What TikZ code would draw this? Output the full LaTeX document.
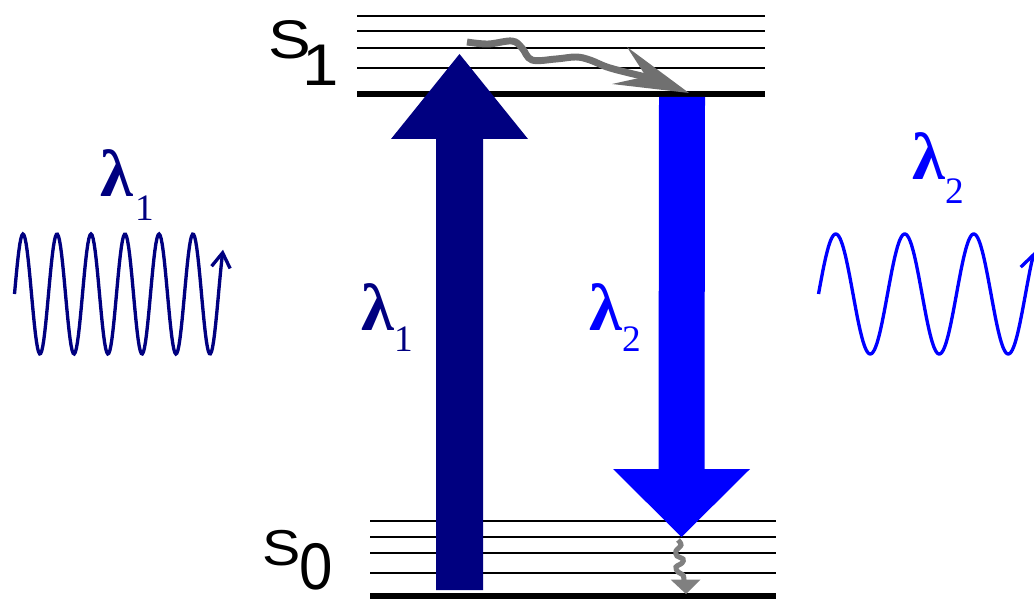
\documentclass[tikz,border=0pt]{standalone}
\usepackage{fontspec}
\setmainfont{Liberation Serif}
\newfontfamily\statefont{Liberation Sans}
\usetikzlibrary{arrows.meta, calc}

\definecolor{absblue}{RGB}{0,0,128}
\definecolor{emblue}{RGB}{0,0,255}
\definecolor{relaxgray}{RGB}{112,112,112}
\definecolor{vibgray}{RGB}{128,128,128}

\begin{document}
\begin{tikzpicture}[
    x=0.75pt, y=-0.75pt,
    level/.style={line width=1.6pt, black},
    groundlevel/.style={line width=3.8pt, black},
    wave/.style={line width=2.5pt, -{Straight Barb[length=11pt, width=14pt]}},
    stateLabel/.style={inner sep=0pt, anchor=base west, font=\statefont},
    lamLabel/.style={inner sep=0pt, anchor=base west, font=\fontsize{50}{50}\selectfont\bfseries}
]
\useasboundingbox (0,0) rectangle (1034,599);

% ----------------------------------------------------
% Vibrational levels of S1 and S0
% ----------------------------------------------------
\foreach \y in {16,31,48,68}
    \draw[level] (357,\y) -- (765,\y);
\draw[groundlevel] (357,94) -- (765,94);

\foreach \y in {521,537,553,573}
    \draw[level] (370,\y) -- (776,\y);
\draw[groundlevel] (370,596) -- (776,596);

\node[stateLabel] (S1) at (268,59)
    {\scalebox{1}[0.85]{\fontsize{48}{48}\selectfont S}\kern-6.5pt\raisebox{-20.25pt}{\scalebox{1}[0.9]{\fontsize{49}{49}\selectfont 1}}};
\node[stateLabel] (S0) at (262.3,565.5)
    {\scalebox{1}[0.88]{\fontsize{43}{43}\selectfont S}\kern-1.3pt\raisebox{-18pt}{\scalebox{1}[1.1]{\fontsize{45}{45}\selectfont 0}}};

% ----------------------------------------------------
% Absorption (up) and emission (down)
% ----------------------------------------------------
\coordinate (absStart) at (459.5,590);
\coordinate (absTip) at (459.5,54);
\fill[absblue] ($(absStart)+(-23.5,0)$) -- ($(absStart)+(23.5,0)$)
    -- ($(absTip)+(23.5,85)$) -- ($(absTip)+(68.5,85)$) -- (absTip)
    -- ($(absTip)+(-68.5,85)$) -- ($(absTip)+(-23.5,85)$) -- cycle;

\coordinate (emStart) at (682,97);
\coordinate (emTip) at (681.5,537);
\fill[emblue] ($(emStart)+(-23,0)$) -- ($(emStart)+(23,0)$)
    -- ($(emTip)+(23,-68)$) -- ($(emTip)+(68.5,-68)$) -- (emTip)
    -- ($(emTip)+(-68.5,-68)$) -- ($(emTip)+(-23,-68)$) -- cycle;

\node[lamLabel, text=absblue] (lamAbs) at (361,330)
    {λ\kern0pt\raisebox{-16.3pt}{\mdseries\fontsize{28}{28}\selectfont 1}};
\node[lamLabel, text=emblue] (lamEm) at (589,330)
    {λ\kern0pt\raisebox{-16.3pt}{\mdseries\fontsize{28}{28}\selectfont 2}};

% ----------------------------------------------------
% Non-radiative relaxation
% ----------------------------------------------------
\coordinate (relaxStart) at (467,42);
\coordinate (relaxTip) at (689,93);
\draw[relaxgray, line width=5.2pt] plot[smooth, tension=0.6] coordinates
    {(relaxStart) (488,44) (512,41) (522,48) (532,60) (556,59) (576,57)
     (590,60) (610,68) (646,77)};
\fill[relaxgray] (relaxTip) -- (627,47) -- (646,76.5) -- (612,84) -- cycle;

\coordinate (vibStart) at (678,540);
\coordinate (vibTip) at (686,594);
\draw[vibgray, line width=3.8pt] plot[smooth, tension=0.6] coordinates
    {(vibStart) (681,545) (676,551) (677,556) (683,559) (682,563)
     (676,567) (678,572) (683,575) (684,581)};
\fill[vibgray] (670.5,579.5) -- (700.5,579.5) -- (vibTip) -- cycle;

% ----------------------------------------------------
% Incoming and outgoing light
% ----------------------------------------------------
\draw[wave, absblue] plot[domain=14.5:223, samples=200]
    (\x, {294 - 60*sin(10.588*(\x-14.5))});
\node[lamLabel, text=absblue] (lamIn) at (100,196)
    {λ\kern1.5pt\raisebox{-18pt}{\mdseries\fontsize{28}{28}\selectfont 1}};

\draw[wave, emblue] plot[domain=818.5:1034, samples=200]
    (\x, {294 - 60*sin(5.2174*(\x-818.5))});
\node[lamLabel, text=emblue] (lamOut) at (912,179)
    {λ\kern0pt\raisebox{-18pt}{\mdseries\fontsize{28}{28}\selectfont 2}};

\end{tikzpicture}
\end{document}
